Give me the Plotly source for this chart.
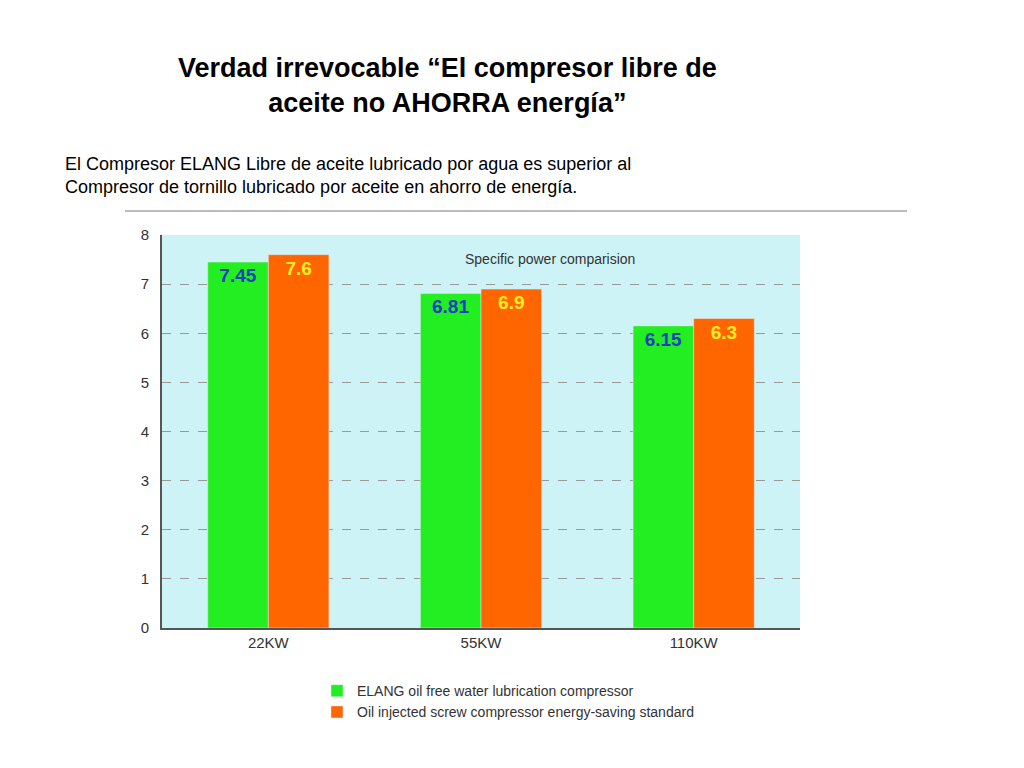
import plotly.graph_objects as go

categories = ["22KW", "55KW", "110KW"]
elang = [7.45, 6.81, 6.15]
oil = [7.6, 6.9, 6.3]
names = ["ELANG oil free water lubrication compressor", "Oil injected screw compressor energy-saving standard"]

fig = go.Figure()
fig.add_bar(x=categories, y=elang, name=names[0], marker_color="#22ee22",
            text=["<b>%s</b>" % v for v in elang], textposition="inside", insidetextanchor="end",
            textfont=dict(color="#1a3fbf", size=19, family="Liberation Sans, Arial"), textangle=0)
fig.add_bar(x=categories, y=oil, name=names[1], marker_color="#ff6600",
            text=["<b>%s</b>" % v for v in oil], textposition="inside", insidetextanchor="end",
            textfont=dict(color="#ffee22", size=19, family="Liberation Sans, Arial"), textangle=0)

W, H = 1024, 768
O = 8
l, r, t, b = 162 - O, 800 - O, 235 - O, 628 - O
ph = b - t
fig.update_layout(
    width=W, height=H, barmode="group", bargap=0.43, bargroupgap=0,
    paper_bgcolor="white", plot_bgcolor="#cdf3f7",
    margin=dict(l=l, r=W - r, t=t, b=H - b, autoexpand=False),
    font=dict(family="Liberation Sans, Arial", color="#333"),
    legend=dict(x=(317 - 162) / (r - l), y=-0.12, xanchor="left", yanchor="top",
                font=dict(size=14, color="#333"), tracegroupgap=18, bgcolor="rgba(0,0,0,0)"),
    yaxis=dict(range=[0, 8], dtick=1, showgrid=True, gridcolor="#999", griddash="dash",
               showline=True, linecolor="#555", linewidth=2, ticks="", ticklabelstandoff=8,
               tickfont=dict(size=15, color="#333"), zeroline=False),
    xaxis=dict(showline=True, linecolor="#555", linewidth=2, tickfont=dict(size=15, color="#333")),
    uniformtext=dict(mode="show", minsize=10),
)
fig.add_annotation(text="<b>Verdad irrevocable “El compresor libre de<br>aceite no AHORRA energía”</b>",
                   xref="paper", yref="paper", x=(447 - 162) / (r - l), y=1 + (235 - 85) / ph,
                   yanchor="middle", showarrow=False,
                   font=dict(size=27, color="black", family="Liberation Sans, Arial"))
fig.add_annotation(text="El Compresor ELANG Libre de aceite lubricado por agua es superior al<br>Compresor de tornillo lubricado por aceite en ahorro de energía.",
                   xref="paper", yref="paper", x=(63 - 162) / (r - l), y=1 + (235 - 176) / ph,
                   xanchor="left", yanchor="middle", align="left", showarrow=False,
                   font=dict(size=18, color="black", family="Liberation Sans, Arial"))
fig.add_annotation(text="Specific power comparision", xref="paper", yref="paper",
                   x=(637 - 162) / (r - l), y=1 - (259 - 235) / ph, yanchor="middle", showarrow=False,
                   font=dict(size=14, color="#333"))
fig.add_shape(type="line", xref="paper", yref="paper", x0=(125 - 162) / (r - l), x1=(907 - 162) / (r - l),
              y0=1 + (235 - 211) / ph, y1=1 + (235 - 211) / ph,
              line=dict(color="#bbb", width=2))
fig.write_html("out.html")
